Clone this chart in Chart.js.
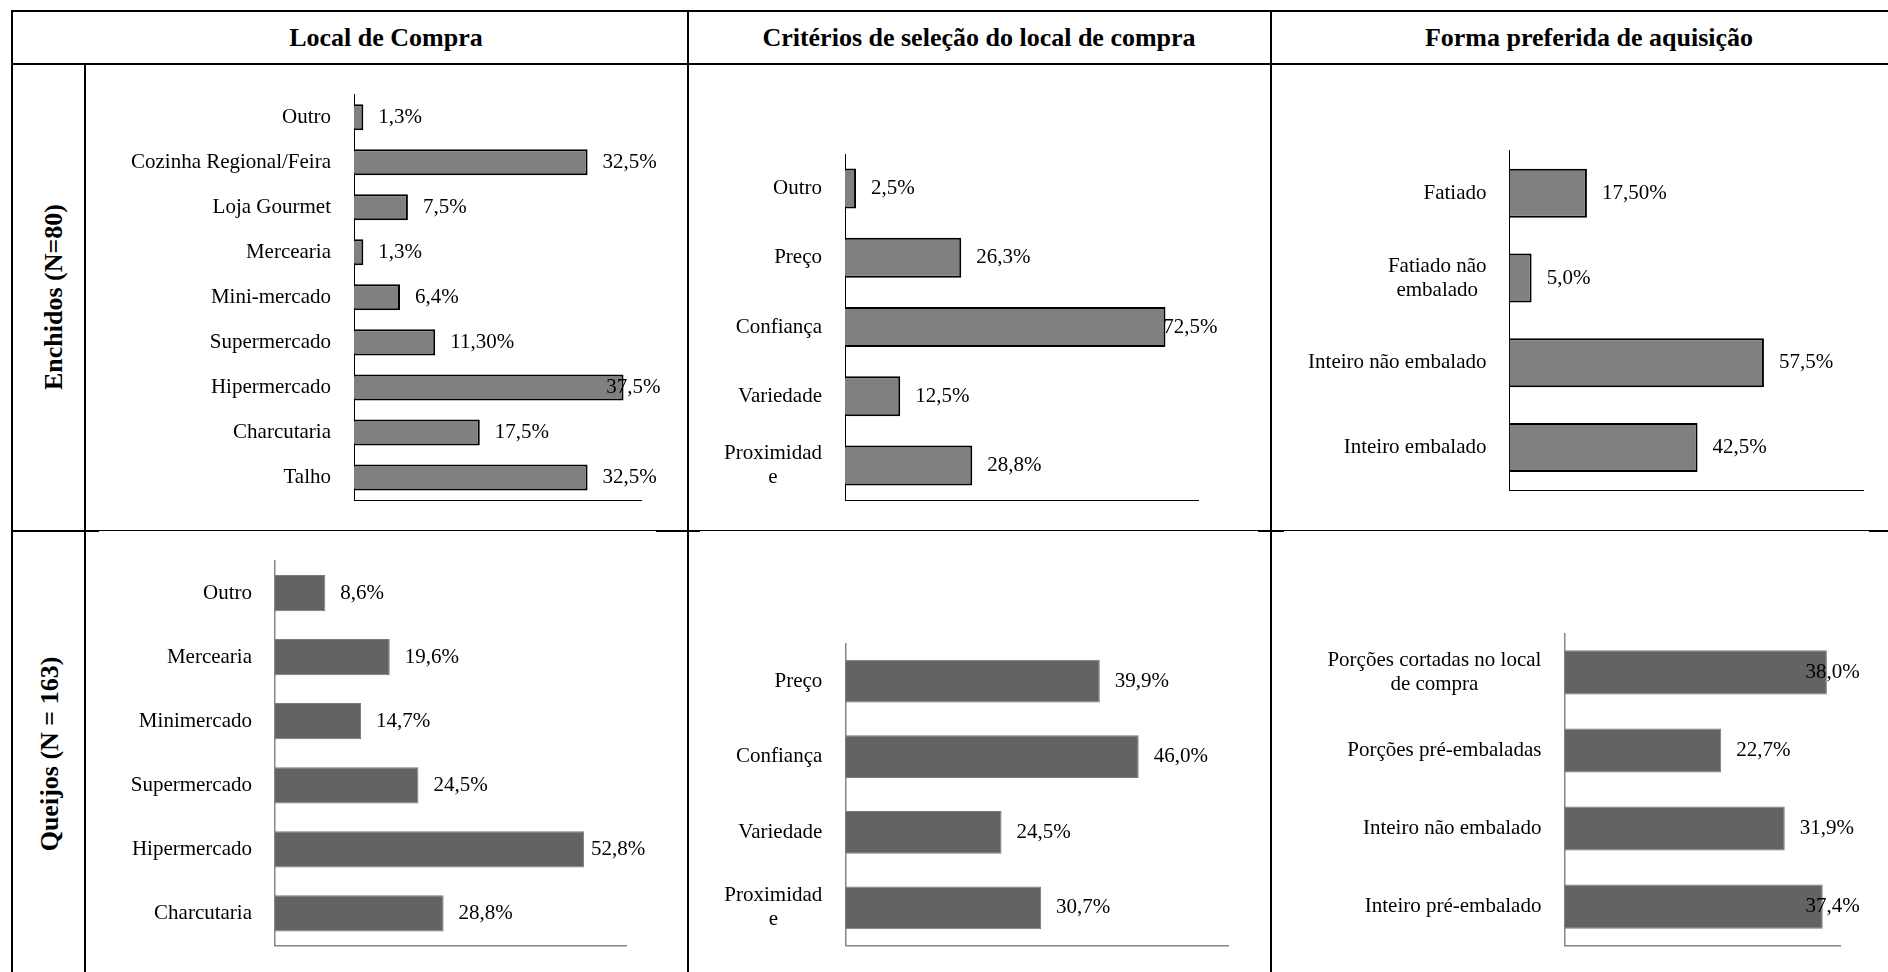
<!DOCTYPE html>
<html><head><meta charset="utf-8">
<script src="https://cdn.jsdelivr.net/npm/chart.js@4.4.0/dist/chart.umd.min.js"></script>
<style>
html,body{margin:0;padding:0;background:#fff;}
#page{position:relative;width:1888px;height:972px;overflow:hidden;background:#fff;font-family:'Liberation Serif','Times New Roman',serif;color:#000;}
.ln{position:absolute;background:#000;}
.hdr{position:absolute;top:23px;line-height:30px;font-size:26px;font-weight:bold;white-space:nowrap;transform:translateX(-50%);}
.rowlbl{position:absolute;line-height:30px;font-size:26px;font-weight:bold;white-space:nowrap;transform:translate(-50%,-50%) rotate(-90deg);}
canvas{position:absolute;}
</style></head>
<body>
<div id="page">
  <div class="ln" style="left:11px;top:10px;width:1877px;height:2px"></div>
  <div class="ln" style="left:11px;top:63px;width:1877px;height:2px"></div>
  <div class="ln" style="left:11px;top:10px;width:2px;height:962px"></div>
  <div class="ln" style="left:84px;top:63px;width:2px;height:909px"></div>
  <div class="ln" style="left:687px;top:10px;width:2px;height:962px"></div>
  <div class="ln" style="left:1270px;top:10px;width:2px;height:962px"></div>
  <div class="ln" style="left:11px;top:530px;width:1877px;height:1px"></div>
  <div class="ln" style="left:11px;top:530px;width:88px;height:2px"></div>
  <div class="ln" style="left:656px;top:530px;width:44px;height:2px"></div>
  <div class="ln" style="left:1258px;top:530px;width:26px;height:2px"></div>
  <div class="ln" style="left:1869px;top:530px;width:19px;height:2px"></div>

  <div class="hdr" style="left:386px">Local de Compra</div>
  <div class="hdr" style="left:979px">Critérios de seleção do local de compra</div>
  <div class="hdr" style="left:1589px">Forma preferida de aquisição</div>

  <div class="rowlbl" style="left:54px;top:297px">Enchidos (N=80)</div>
  <div class="rowlbl" style="left:50px;top:754px">Queijos (N = 163)</div>

  <canvas id="c1"></canvas>
  <canvas id="c2"></canvas>
  <canvas id="c3"></canvas>
  <canvas id="c4"></canvas>
  <canvas id="c5"></canvas>
  <canvas id="c6"></canvas>
</div>
<script>
// ---------- DATA ----------
const enchLocalCats = ['Outro','Cozinha Regional/Feira','Loja Gourmet','Mercearia','Mini-mercado','Supermercado','Hipermercado','Charcutaria','Talho'];
const enchLocalVals = [1.3,32.5,7.5,1.3,6.4,11.3,37.5,17.5,32.5];
const enchLocalDecimals = [1,1,1,1,1,2,1,1,1];

const enchCritCats = ['Outro','Preço','Confiança','Variedade',['Proximidad','e']];
const enchCritVals = [2.5,26.3,72.5,12.5,28.8];
const enchCritDecimals = [1,1,1,1,1];

const enchFormaCats = ['Fatiado',['Fatiado não','embalado'],'Inteiro não embalado','Inteiro embalado'];
const enchFormaVals = [17.5,5.0,57.5,42.5];
const enchFormaDecimals = [2,1,1,1];

const queiLocalCats = ['Outro','Mercearia','Minimercado','Supermercado','Hipermercado','Charcutaria'];
const queiLocalVals = [8.6,19.6,14.7,24.5,52.8,28.8];
const queiLocalDecimals = [1,1,1,1,1,1];

const queiCritCats = ['Preço','Confiança','Variedade',['Proximidad','e']];
const queiCritVals = [39.9,46.0,24.5,30.7];
const queiCritDecimals = [1,1,1,1];

const queiFormaCats = [['Porções cortadas no local','de compra'],'Porções pré-embaladas','Inteiro não embalado','Inteiro pré-embalado'];
const queiFormaVals = [38.0,22.7,31.9,37.4];
const queiFormaDecimals = [1,1,1,1];

// ---------- RENDERING ----------
const FONT = '21px "Liberation Serif", "Times New Roman", serif';
Chart.defaults.font.family = '"Liberation Serif", "Times New Roman", serif';

function fmt(v, d){ return v.toFixed(d).replace('.', ',') + '%'; }

const labelPlugin = {
  id: 'lbls',
  afterDatasetsDraw(chart, args, opts) {
    const ctx = chart.ctx, ca = chart.chartArea, ys = chart.scales.y;
    ctx.save();
    ctx.font = FONT;
    ctx.fillStyle = '#000';
    ctx.textBaseline = 'middle';
    chart.data.labels.forEach((lab, i) => {
      const y = ys.getPixelForValue(i);
      const lines = Array.isArray(lab) ? lab : [lab];
      const bw = Math.max(...lines.map(s => ctx.measureText(s).width));
      const right = ca.left - opts.catGap;
      ctx.textAlign = 'center';
      lines.forEach((s, k) => {
        ctx.fillText(s, right - bw / 2, y + (k - (lines.length - 1) / 2) * opts.lineHeight);
      });
    });
    const meta = chart.getDatasetMeta(0);
    const data = chart.data.datasets[0].data;
    ctx.textAlign = 'left';
    meta.data.forEach((bar, i) => {
      const txt = fmt(data[i], opts.decimals[i]);
      const w = ctx.measureText(txt).width;
      let x = bar.x + opts.valGap;
      const lim = ca.right + opts.overhang - w;
      if (x > lim) x = lim;
      ctx.fillText(txt, x, bar.y);
    });
    ctx.restore();
  }
};

function makeChart(id, box, area, cats, vals, decimals, max, style) {
  const cv = document.getElementById(id);
  cv.width = box.w; cv.height = box.h;
  cv.style.left = box.x + 'px'; cv.style.top = box.y + 'px';
  cv.style.width = box.w + 'px'; cv.style.height = box.h + 'px';
  return new Chart(cv, {
    type: 'bar',
    data: {
      labels: cats,
      datasets: [{
        data: vals,
        backgroundColor: style.fill,
        borderColor: style.edge,
        borderWidth: style.edgeWidth,
        barPercentage: style.barPct,
        categoryPercentage: 1
      }]
    },
    options: {
      indexAxis: 'y',
      responsive: false,
      animation: false,
      devicePixelRatio: 1,
      layout: { padding: {
        left: area.l - box.x, top: area.t - box.y,
        right: box.x + box.w - area.r, bottom: box.y + box.h - area.b } },
      scales: {
        x: { min: 0, max: max, ticks: { display: false },
             grid: { display: false, drawTicks: false, tickLength: 0 },
             border: { display: true, color: style.axis, width: style.axisWidth } },
        y: { ticks: { display: false },
             grid: { display: false, drawTicks: false, tickLength: 0 },
             border: { display: true, color: style.axis, width: style.axisWidth } }
      },
      plugins: {
        legend: { display: false },
        tooltip: { enabled: false },
        lbls: { decimals: decimals, catGap: 23, valGap: 15, overhang: 19, lineHeight: 24 }
      }
    },
    plugins: [labelPlugin]
  });
}

const styleEnch = { fill: '#808080', edge: '#000000', edgeWidth: 2, barPct: 0.578, axis: '#000000', axisWidth: 1 };
const styleQuei = { fill: '#636363', edge: '#7a7a7a', edgeWidth: 1, barPct: 0.565, axis: '#868686', axisWidth: 1.5 };

makeChart('c1', {x:87, y:66, w:599, h:462}, {l:354, t:94.7, r:641.5, b:500}, enchLocalCats, enchLocalVals, enchLocalDecimals, 40, styleEnch);
makeChart('c2', {x:689, y:66, w:581, h:462}, {l:845, t:154, r:1198.6, b:500}, enchCritCats, enchCritVals, enchCritDecimals, 80, styleEnch);
makeChart('c3', {x:1272, y:66, w:616, h:462}, {l:1509.5, t:150.8, r:1863.5, b:490}, enchFormaCats, enchFormaVals, enchFormaDecimals, 80, styleEnch);
makeChart('c4', {x:87, y:533, w:599, h:439}, {l:275, t:561, r:626.3, b:945.5}, queiLocalCats, queiLocalVals, queiLocalDecimals, 60, styleQuei);
makeChart('c5', {x:689, y:533, w:581, h:439}, {l:845.3, t:643.3, r:1228, b:945.7}, queiCritCats, queiCritVals, queiCritDecimals, 60, styleQuei);
makeChart('c6', {x:1272, y:533, w:616, h:439}, {l:1564.4, t:633.3, r:1840.7, b:945.7}, queiFormaCats, queiFormaVals, queiFormaDecimals, 40, styleQuei);
</script>
</body></html>
